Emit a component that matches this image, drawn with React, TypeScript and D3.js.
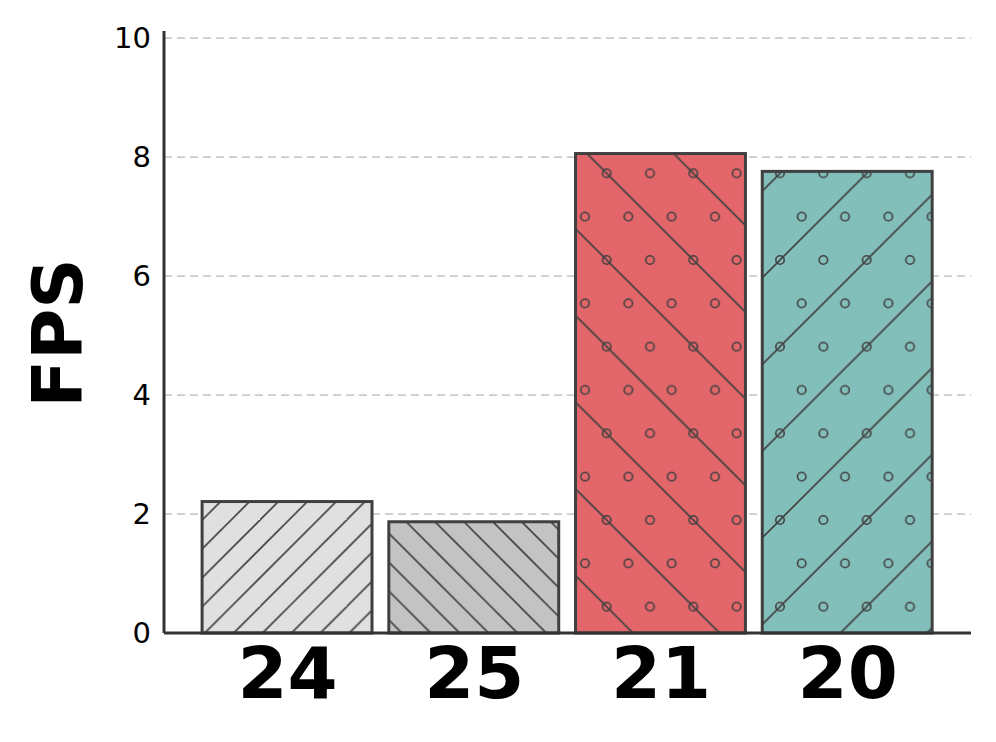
import React, { useEffect, useRef } from "react";
import * as d3 from "d3";

const categories = ["24", "25", "21", "20"];
const fpsValues = [2.21, 1.87, 8.06, 7.76];
const yTicks = [0, 2, 4, 6, 8, 10];

const barColors = ["#e0e0e0", "#c3c3c3", "#e3666a", "#83bfba"];
const barHatch = ["hatch-fwd3", "hatch-back3", "hatch-back-o", "hatch-fwd-o"];

const W = 996;
const H = 742;
const T = 86.67; // hatch tile size in px
const hatchColor = "#404040";

export default function App() {
  const ref = useRef<SVGSVGElement | null>(null);

  useEffect(() => {
    drawChart();
  }, []);

  function drawChart() {
    const svg = d3.select(ref.current);
    svg.selectAll("*").remove();

    const x = d3.scaleLinear().domain([-0.659, 3.663]).range([164, 971]);
    const y = d3.scaleLinear().domain([0, 10.12]).range([633, 31]);

    // hatch patterns, anchored to the canvas like matplotlib does
    const defs = svg.append("defs");
    const makePattern = (id: string) =>
      defs
        .append("pattern")
        .attr("id", id)
        .attr("patternUnits", "userSpaceOnUse")
        .attr("x", 606.67)
        .attr("y", 173.33)
        .attr("width", T)
        .attr("height", T);

    const addLines = (p: any, dir: number, step: number) => {
      for (let c = -2 * T; c <= 2 * T; c += step) {
        // dir 1: y = x + c ("\"), dir -1: y = -x + c ("/")
        const x0 = -T, x1 = 2 * T;
        p.append("line")
          .attr("x1", x0)
          .attr("y1", dir * x0 + c)
          .attr("x2", x1)
          .attr("y2", dir * x1 + c)
          .attr("stroke", hatchColor)
          .attr("stroke-width", 1.6);
      }
    };
    const addCircles = (p: any) => {
      const pts: [number, number][] = [];
      for (let i = -1; i <= 3; i++) {
        pts.push([(i * T) / 2, 0]);
        pts.push([(i * T) / 2, T]);
        pts.push([T / 4 + (i * T) / 2, T / 2]);
      }
      pts.forEach(([cx, cy]) => {
        p.append("circle")
          .attr("cx", cx)
          .attr("cy", cy)
          .attr("r", 4.2)
          .attr("fill", "none")
          .attr("stroke", hatchColor)
          .attr("stroke-width", 1.6);
      });
    };

    addLines(makePattern("hatch-fwd3"), -1, T / 3);
    addLines(makePattern("hatch-back3"), 1, T / 3);
    const po = makePattern("hatch-back-o");
    addLines(po, 1, T);
    addCircles(po);
    const pf = makePattern("hatch-fwd-o");
    addLines(pf, -1, T);
    addCircles(pf);

    // grid
    svg.append("g")
      .selectAll("line")
      .data(yTicks.filter((d) => d > 0))
      .join("line")
      .attr("x1", 164)
      .attr("x2", 971)
      .attr("y1", (d) => y(d))
      .attr("y2", (d) => y(d))
      .attr("stroke", "#cccccc")
      .attr("stroke-width", 1.8)
      .attr("stroke-dasharray", "8,5");

    // bars: fill, hatch, edge
    const bars = svg.append("g");
    const bw = 0.91;
    fpsValues.forEach((v, i) => {
      const rx = x(i - bw / 2);
      const rw = x(i + bw / 2) - x(i - bw / 2);
      const ry = y(v);
      const rh = y(0) - y(v);
      bars.append("rect").attr("x", rx).attr("y", ry).attr("width", rw).attr("height", rh)
        .attr("fill", barColors[i]);
      bars.append("rect").attr("x", rx).attr("y", ry).attr("width", rw).attr("height", rh)
        .attr("fill", `url(#${barHatch[i]})`);
      bars.append("rect").attr("x", rx).attr("y", ry).attr("width", rw).attr("height", rh)
        .attr("fill", "none")
        .attr("stroke", "#404040")
        .attr("stroke-width", 3);
    });

    // y axis
    const yAxis = svg.append("g")
      .attr("transform", "translate(164,0)")
      .call(d3.axisLeft(y).tickValues(yTicks).tickSize(0).tickPadding(13).tickFormat(d3.format("d")));
    yAxis.select(".domain").remove();
    yAxis.selectAll("text")
      .attr("font-family", "DejaVu Sans")
      .attr("font-size", 29)
      .attr("fill", "#000");

    // x axis labels
    const xAxis = svg.append("g")
      .attr("transform", "translate(0,633)")
      .call(
        d3.axisBottom(x)
          .tickValues(d3.range(categories.length))
          .tickSize(0)
          .tickPadding(14)
          .tickFormat((d: any) => categories[d])
      );
    xAxis.select(".domain").remove();
    xAxis.selectAll("text")
      .attr("font-family", "DejaVu Sans")
      .attr("font-weight", "bold")
      .attr("font-size", 72)
      .attr("fill", "#000");

    // spines
    svg.append("line")
      .attr("x1", 164).attr("x2", 164).attr("y1", y(10.12)).attr("y2", 633)
      .attr("stroke", "#333").attr("stroke-width", 3);
    svg.append("line")
      .attr("x1", 164).attr("x2", 971).attr("y1", 633).attr("y2", 633)
      .attr("stroke", "#333").attr("stroke-width", 3);

    // y label
    svg.append("text")
      .attr("transform", "translate(82,333) rotate(-90)")
      .attr("text-anchor", "middle")
      .attr("font-family", "DejaVu Sans")
      .attr("font-weight", "bold")
      .attr("font-size", 70)
      .attr("fill", "#000")
      .text("FPS");
  }

  return (
    <svg
      ref={ref}
      width={W}
      height={H}
      style={{ position: "absolute", left: 0, top: 0, background: "#fff" }}
    />
  );
}
